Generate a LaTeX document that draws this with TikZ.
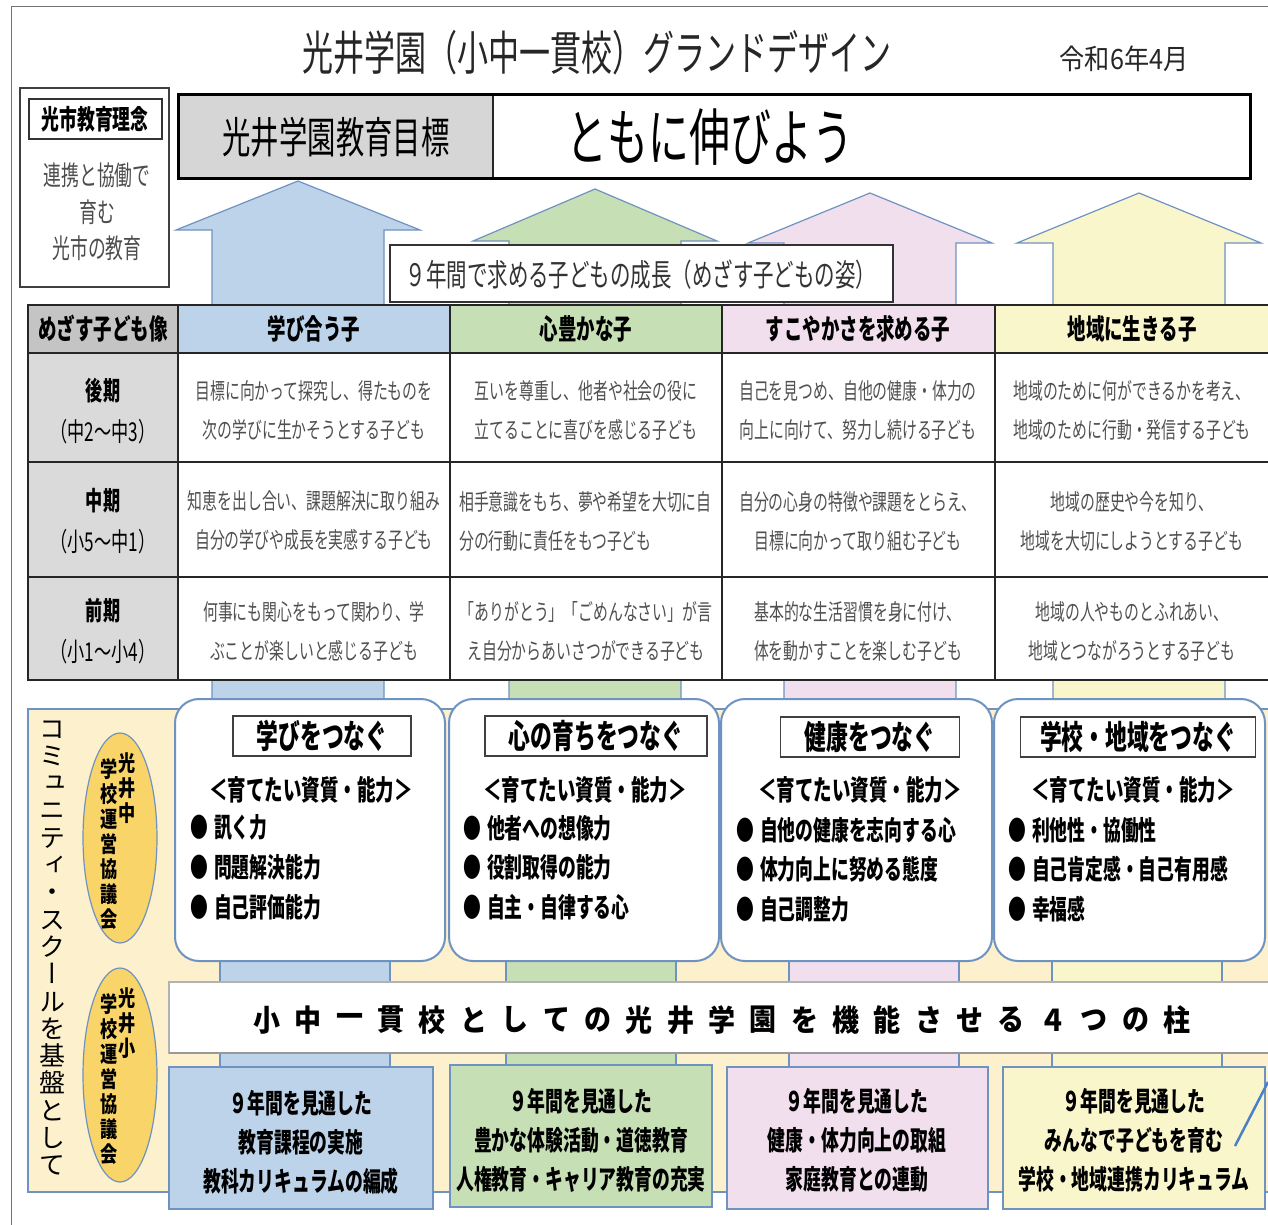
\documentclass[tikz,border=0pt]{standalone}
\usepackage{fontspec}
\usepackage{graphicx}
\newfontfamily\jp[FakeStretch=0.66]{Noto Sans CJK JP}
\newfontfamily\jpw[FakeStretch=0.9]{Noto Sans CJK JP}
\newfontfamily\jpv[FakeStretch=0.78,RawFeature=+vert]{Noto Sans CJK JP}
\newfontfamily\jpvw[RawFeature=+vert]{Noto Sans CJK JP}
\newcommand\fsz[2]{\fontsize{#1}{#2}\selectfont}

\definecolor{pblue}{HTML}{BCD3EA}
\definecolor{pgreen}{HTML}{C6DFB4}
\definecolor{ppink}{HTML}{F2DFEE}
\definecolor{pyellow}{HTML}{FAF6CC}
\definecolor{ptan}{HTML}{FDF0CC}
\definecolor{pgold}{HTML}{F9D468}
\definecolor{edgeblue}{HTML}{6F93C0}
\definecolor{lineblue}{HTML}{4A80C8}
\definecolor{cellgray}{HTML}{DADADA}
\definecolor{headgray}{HTML}{C4C4C4}
\definecolor{textgray}{HTML}{505050}

\tikzset{
  txt/.style={inner sep=0pt, text=black},
  pastel/.style={draw=edgeblue, line width=1.2pt},
  grid/.style={draw=black!85, line width=1.8pt},
  headtxt/.style={inner sep=0pt, font=\jp\bfseries\fsz{28}{30}},
  labeltxt/.style={inner sep=0pt, align=center, font=\jp\fsz{26}{41}},
  celltxt/.style={inner sep=0pt, align=center, text=textgray, font=\jp\fsz{22.5}{39}},
  titlebox/.style={draw=black!75, line width=1.5pt, fill=white, minimum height=40pt, inner sep=0pt, font=\jp\bfseries\fsz{33}{35}},
  subtxt/.style={inner sep=0pt, font=\jp\bfseries\fsz{28}{30}},
  bullet/.style={inner sep=0pt, anchor=west, font=\jp\bfseries\fsz{27}{30}},
  bannertxt/.style={inner sep=0pt, font=\jpw\bfseries\fsz{30}{32}},
  pillartxt/.style={inner sep=0pt, align=center, font=\jp\bfseries\fsz{27}{39}},
  ovaltxt/.style={inner sep=0pt, anchor=north, align=center, font=\jpv\bfseries\fsz{22}{25}},
}

\begin{document}
\begin{tikzpicture}[x=1pt, y=-1pt]
	%%%%% START %%%%%
	\useasboundingbox (0,0) rectangle (1268,1225);
	\fill[white] (0,0) rectangle (1268,1225);
	
	\draw[black!55, line width=1pt] (11,1240) -- (11,7) -- (1280,7);
	
	\node[txt, font=\jp\fsz{47}{50}, text=black!85] (title) at (597,53) {光井学園（小中一貫校）グランドデザイン};
	\node[txt, font=\jpw\fsz{28}{30}, text=black!85] (date) at (1124,59) {令和6年4月};
	
	% arrows
	\foreach \col/\cx/\ty/\by in {pblue/298/181/230, pgreen/595/189/241, ppink/870/193/243, pyellow/1139/193/243}
		\draw[pastel, fill=\col] (\cx-86,705) -- (\cx-86,\by) -- (\cx-122,\by) -- (\cx,\ty) -- (\cx+122,\by) -- (\cx+86,\by) -- (\cx+86,705);
	
	% goal
	\fill[white] (178,95) rectangle (1250,179);
	\fill[black!16] (178,95) rectangle (493,179);
	\draw[black!85, line width=1.5pt] (493,95) -- (493,179);
	\draw[black, line width=3pt] (178,95) rectangle (1250,179);
	\node[txt, font=\jp\fsz{43}{45}] (goal) at (336,137) {光井学園教育目標};
	\node[txt, font=\jp\fsz{62}{64}] (motto) at (710,137) {ともに伸びよう};
	
	\draw[black!80, line width=1.5pt, fill=white] (390,245) rectangle (893,302);
	\node[txt, font=\jp\fsz{31}{33}, text=black!80] (growth) at (641,275) {９年間で求める子どもの成長（めざす子どもの姿）};
	
	% left box
	\draw[black!75, line width=1.8pt, fill=white] (20,88) rectangle (169,287);
	\draw[black!80, line width=1.5pt] (29,99) rectangle (162,139);
	\node[txt, font=\jp\bfseries\fsz{27}{30}] (idea) at (95,119) {光市教育理念};
	\node[txt, align=center, text=black!70, font=\jp\fsz{27}{36.5}] (ideatext) at (97,212) {連携と協働で\\育む\\光市の教育};
	
	% table
	\fill[headgray] (28,305) rectangle (178,353);
	\foreach \x/\col in {178/pblue, 450/pgreen, 722/ppink, 995/pyellow}
		\fill[\col] (\x,305) rectangle ++(273,48);
	\fill[cellgray] (28,353) rectangle (178,680);
	\fill[white] (178,353) rectangle (1280,680);
	\draw[grid] (28,305) rectangle (1290,680);
	\foreach \x in {178,450,722,995}
		\draw[grid] (\x,305) -- (\x,680);
	\foreach \y in {353,462,577}
		\draw[grid] (28,\y) -- (1290,\y);
	
	\node[headtxt] (h0) at (103,329) {めざす子ども像};
	\node[headtxt] (h1) at (314,329) {学び合う子};
	\node[headtxt] (h2) at (586,329) {心豊かな子};
	\node[headtxt] (h3) at (858,329) {すこやかさを求める子};
	\node[headtxt] (h4) at (1132,329) {地域に生きる子};
	
	\node[labeltxt] (r1) at (103,411) {{\bfseries 後期}\\（中2～中3）};
	\node[labeltxt] (r2) at (103,521) {{\bfseries 中期}\\（小5～中1）};
	\node[labeltxt] (r3) at (103,631) {{\bfseries 前期}\\（小1～小4）};
	
	\node[celltxt] (c11) at (314,410) {目標に向かって探究し、得たものを\\次の学びに生かそうとする子ども};
	\node[celltxt] (c12) at (586,410) {互いを尊重し、他者や社会の役に\\立てることに喜びを感じる子ども};
	\node[celltxt] (c13) at (858,410) {自己を見つめ、自他の健康・体力の\\向上に向けて、努力し続ける子ども};
	\node[celltxt] (c14) at (1132,410) {地域のために何ができるかを考え、\\地域のために行動・発信する子ども};
	\node[celltxt] (c21) at (314,521) {知恵を出し合い、課題解決に取り組み\\自分の学びや成長を実感する子ども};
	\node[celltxt, align=left, anchor=west] (c22) at (459,521) {相手意識をもち、夢や希望を大切に自\\分の行動に責任をもつ子ども};
	\node[celltxt] (c23) at (858,521) {自分の心身の特徴や課題をとらえ、\\目標に向かって取り組む子ども};
	\node[celltxt] (c24) at (1132,521) {地域の歴史や今を知り、\\地域を大切にしようとする子ども};
	\node[celltxt] (c31) at (314,631) {何事にも関心をもって関わり、学\\ぶことが楽しいと感じる子ども};
	\node[celltxt] (c32) at (586,631) {「ありがとう」「ごめんなさい」が言\\え自分からあいさつができる子ども};
	\node[celltxt] (c33) at (858,631) {基本的な生活習慣を身に付け、\\体を動かすことを楽しむ子ども};
	\node[celltxt] (c34) at (1132,631) {地域の人やものとふれあい、\\地域とつながろうとする子ども};
	
	% community school base
	\draw[pastel, fill=ptan] (28,709) rectangle (1290,1192);
	\foreach \xl/\col in {220/pblue, 506/pgreen, 789/ppink, 1052/pyellow}
		\draw[pastel, fill=\col] (\xl,950) rectangle ++(170,120);
	
	\foreach \xl/\xr in {175/445, 449/719, 721/992, 994/1265}
		\draw[draw=edgeblue, line width=2pt, fill=white, rounded corners=24pt] (\xl,699) rectangle (\xr,961);
	
	\node[titlebox, minimum width=178pt] (t1) at (322,736) {学びをつなぐ};
	\node[titlebox, minimum width=222pt] (t2) at (596,736) {心の育ちをつなぐ};
	\node[titlebox, minimum width=179pt] (t3) at (870,737) {健康をつなぐ};
	\node[titlebox, minimum width=235pt] (t4) at (1138,737) {学校・地域をつなぐ};
	
	\foreach \cx [count=\i] in {311,585,860,1133}
		\node[subtxt] (s\i) at (\cx,790) {＜育てたい資質・能力＞};
	
	\node[bullet] (b11) at (190,828) {●\hspace{6pt}訊く力};
	\node[bullet] (b12) at (190,867) {●\hspace{6pt}問題解決能力};
	\node[bullet] (b13) at (190,907) {●\hspace{6pt}自己評価能力};
	\node[bullet] (b21) at (463,828) {●\hspace{6pt}他者への想像力};
	\node[bullet] (b22) at (463,867) {●\hspace{6pt}役割取得の能力};
	\node[bullet] (b23) at (463,907) {●\hspace{6pt}自主・自律する心};
	\node[bullet] (b31) at (736,830) {●\hspace{6pt}自他の健康を志向する心};
	\node[bullet] (b32) at (736,869) {●\hspace{6pt}体力向上に努める態度};
	\node[bullet] (b33) at (736,909) {●\hspace{6pt}自己調整力};
	\node[bullet] (b41) at (1008,830) {●\hspace{6pt}利他性・協働性};
	\node[bullet] (b42) at (1008,869) {●\hspace{6pt}自己肯定感・自己有用感};
	\node[bullet] (b43) at (1008,909) {●\hspace{6pt}幸福感};
	
	% banner
	\draw[draw=black!30, line width=1.5pt, fill=white] (169,982) rectangle (1290,1053);
	\draw[black!40, line width=2.5pt] (169,1053) -- (1290,1053);
	\foreach \ch [count=\i from 0] in {小,中,一,貫,校,と,し,て,の,光,井,学,園,を,機,能,さ,せ,る,４,つ,の,柱}
		\node[bannertxt] (p\i) at (267+41.36*\i,1020) {\ch};
	
	% pillars
	\draw[pastel, fill=pblue] (169,1067) rectangle (433,1209);
	\draw[pastel, fill=pgreen] (450,1065) rectangle (712,1207);
	\draw[pastel, fill=ppink] (727,1067) rectangle (988,1209);
	\draw[pastel, fill=pyellow] (1003,1067) rectangle (1265,1209);
	\node[pillartxt] (q1) at (301,1142) {９年間を見通した\\教育課程の実施\\教科カリキュラムの編成};
	\node[pillartxt] (q2) at (581,1140) {９年間を見通した\\豊かな体験活動・道徳教育\\人権教育・キャリア教育の充実};
	\node[pillartxt] (q3) at (857,1140) {９年間を見通した\\健康・体力向上の取組\\家庭教育との連動};
	\node[pillartxt] (q4) at (1134,1140) {９年間を見通した\\みんなで子どもを育む\\学校・地域連携カリキュラム};
	
	% councils
	\draw[pastel, fill=pgold] (120,838) ellipse (37 and 105);
	\draw[pastel, fill=pgold] (120,1075) ellipse (37 and 107);
	\node[ovaltxt] (m1) at (127,752) {光\\井\\中};
	\node[ovaltxt] (m2) at (109,758) {学\\校\\運\\営\\協\\議\\会};
	\node[ovaltxt] (e1) at (127,987) {光\\井\\小};
	\node[ovaltxt] (e2) at (109,993) {学\\校\\運\\営\\協\\議\\会};
	
	\node[txt, align=center, font=\jpvw\fsz{26}{27.3}] (cs) at (52,948) {コ\\ミ\\ュ\\ニ\\テ\\ィ\\・\\ス\\ク\\ー\\ル\\を\\基\\盤\\と\\し\\て};
	
	\coordinate (lineA) at (1268,1082);
	\coordinate (lineB) at (1235,1146);
	\draw[lineblue, line width=2.5pt] (lineA) -- (lineB);
	%%%%% END %%%%%
\end{tikzpicture}
\end{document}
